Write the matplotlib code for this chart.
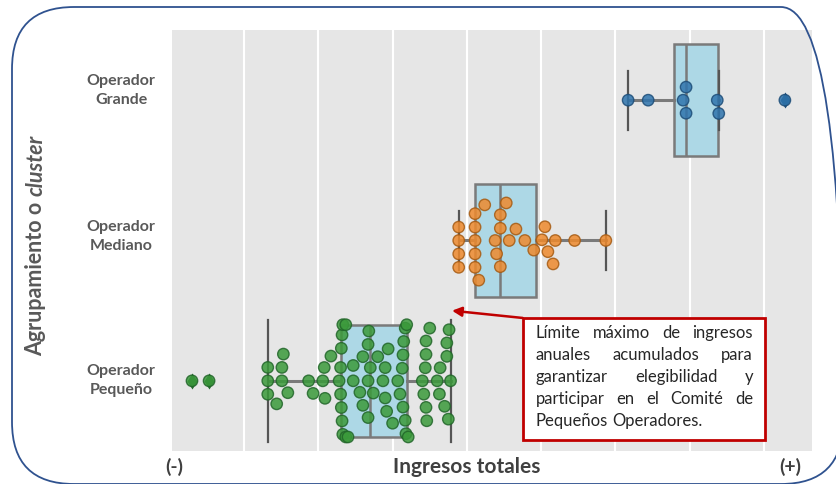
import matplotlib
matplotlib.use('Agg')
import pandas as pd
import matplotlib.pyplot as plt
import seaborn as sns
from matplotlib.patches import FancyBboxPatch, Rectangle
from matplotlib.transforms import IdentityTransform, blended_transform_factory

# Datos (unidades arbitrarias de ingresos)
grupos = ['Operador\nGrande', 'Operador\nMediano', 'Operador\nPequeño']

grande = [6.17, 6.44, 6.91, 6.95, 6.95, 7.37, 7.39, 8.28]

mediano = [3.89, 3.89, 3.89, 3.89, 4.11, 4.11, 4.11, 4.11, 4.11, 4.16, 4.24,
           4.38, 4.40, 4.45, 4.45, 4.45, 4.53, 4.57, 4.66, 4.78, 4.90, 5.01,
           5.05, 5.09, 5.16, 5.19, 5.45, 5.87]

pequeno = [0.30, 0.53, 1.32, 1.32, 1.32, 1.44, 1.51, 1.51, 1.53, 1.59, 1.87,
           1.93, 2.06, 2.08, 2.09, 2.17,
           2.28, 2.30, 2.30, 2.31, 2.31, 2.32, 2.32, 2.33, 2.33, 2.37, 2.37,
           2.40,
           2.47, 2.47, 2.56, 2.60, 2.60, 2.67, 2.67, 2.67, 2.68, 2.70, 2.74,
           2.80, 2.87, 2.90, 2.90, 2.92, 2.94, 3.00,
           3.07, 3.10, 3.13, 3.14, 3.14, 3.15, 3.17, 3.17, 3.18, 3.19, 3.21,
           3.40, 3.42, 3.44, 3.45, 3.45, 3.45, 3.46, 3.50,
           3.60, 3.63, 3.64, 3.70, 3.73, 3.73, 3.75, 3.76, 3.78]

colores = ['#2f74ad', '#ee8a2d', '#3b9a3b']
bordes = ['#1d4d78', '#a65b12', '#22662a']
ancho_caps = [0.42, 0.42, 0.87]

nota = ['Límite máximo de ingresos',
        'anuales acumulados para',
        'garantizar elegibilidad y',
        'participar en el Comité de',
        'Pequeños Operadores.']

plt.rcParams['font.family'] = ['Lato', 'DejaVu Sans']

W, H = 837, 484
fig = plt.figure(figsize=(W / 100, H / 100), dpi=100)
ax = fig.add_axes([172 / W, 33 / H, 640 / W, 421 / H])
ax.set_facecolor('#e6e6e6')
for s in ax.spines.values():
    s.set_visible(False)
ax.set_axisbelow(True)
ax.grid(axis='x', color='white', linewidth=1.5)

# Cajas (matplotlib, para poder variar el largo de los topes)
gris = '#7a7a7a'
bp = ax.boxplot([grande, mediano, pequeno], positions=[0, 1, 2],
                orientation='horizontal', widths=0.8, capwidths=ancho_caps,
                patch_artist=True, zorder=2,
                boxprops=dict(facecolor='#add8e6', edgecolor=gris, linewidth=1.8),
                whiskerprops=dict(color=gris, linewidth=2.2),
                capprops=dict(color='#555555', linewidth=1.6),
                medianprops=dict(color=gris, linewidth=1.8),
                flierprops=dict(marker='d', markersize=8, markeredgecolor='none'))
for fl, c in zip(bp['fliers'], bordes):
    fl.set_markerfacecolor(c)

# Puntos (swarm)
df = pd.DataFrame({
    'ingresos': grande + mediano + pequeno,
    'grupo': [grupos[0]] * len(grande) + [grupos[1]] * len(mediano) + [grupos[2]] * len(pequeno),
})
n_antes = len(ax.collections)
sns.swarmplot(data=df, x='ingresos', y='grupo', order=grupos, hue='grupo',
              hue_order=grupos, palette=colores, size=8.2, linewidth=1,
              alpha=0.85, legend=False, ax=ax, zorder=3)
for coll in ax.collections[n_antes:]:
    fc = coll.get_facecolor()
    if len(fc) == 0:
        continue
    hexfc = matplotlib.colors.to_hex(fc[0], keep_alpha=False)
    for c, b in zip(colores, bordes):
        if hexfc == c:
            coll.set_edgecolor(b)

ax.set_xlim(0.031, 8.645)
ax.set_ylim(2.5, -0.5)
ax.set_xticks(range(1, 9))
ax.set_xticklabels([])
ax.set_yticks([0, 1, 2])
ax.set_yticklabels([])
ax.tick_params(length=0)
ax.set_xlabel('')
ax.set_ylabel('')

# Etiquetas de grupo
trans = blended_transform_factory(fig.transFigure, ax.transData)
for pos, (g, dy) in enumerate(zip(grupos, [-0.07, -0.03, 0.0])):
    fig.text(121 / W, pos + dy, g, transform=trans, ha='center', va='center',
             fontsize=11.5, fontweight='bold', color='#595959', linespacing=1.45)

# Caja de nota y flecha
ax.add_patch(Rectangle((0.548, 0.026), 0.379, 0.29, transform=ax.transAxes,
                       facecolor='white', edgecolor='#c00000', linewidth=2,
                       zorder=5))
ax.annotate('', xy=(3.80, 1.5), xytext=(0.548, 0.316),
            xycoords='data', textcoords='axes fraction',
            arrowprops=dict(arrowstyle='-|>', color='#c00000', lw=1.8,
                            mutation_scale=14, shrinkA=0, shrinkB=0),
            zorder=6)

# Textos de ejes
fig.text(174 / W, 1 - 467 / H, '(-)', ha='center', va='center', fontsize=14,
         fontweight='bold', color='#404040')
fig.text(790 / W, 1 - 467 / H, '(+)', ha='center', va='center', fontsize=14,
         fontweight='bold', color='#404040')
fig.text(467 / W, 1 - 467 / H, 'Ingresos totales', ha='center', va='center',
         fontsize=15, fontweight='bold', color='#404040')

fig.canvas.draw()
r = fig.canvas.get_renderer()

# Etiqueta vertical con "cluster" en cursiva
t1 = fig.text(36 / W, 1 - 356 / H, 'Agrupamiento o ', rotation=90, ha='center',
              va='bottom', fontsize=15.5, fontweight='bold', color='#595959')
alto = t1.get_window_extent(r).height
fig.text(36 / W, (H - 356 + alto) / H, 'cluster', rotation=90, ha='center',
         va='bottom', fontsize=15.5, fontweight='bold', style='italic',
         color='#595959')

# Texto justificado de la nota
x_izq, x_der = 536, 753
tam = 12
espacio = fig.text(0, 0, 'a a', fontsize=tam).get_window_extent(r).width - \
    2 * fig.text(0, 0, 'a', fontsize=tam).get_window_extent(r).width
for t in fig.texts[-2:]:
    t.remove()
for i, linea in enumerate(nota):
    y = 1 - (333 + i * 22) / H
    palabras = linea.split()
    textos = [fig.text(0, y, p, ha='left', va='center', fontsize=tam,
                       color='#262626', zorder=7) for p in palabras]
    anchos = [t.get_window_extent(r).width for t in textos]
    if i < len(nota) - 1:
        hueco = (x_der - x_izq - sum(anchos)) / (len(palabras) - 1)
    else:
        hueco = espacio
    x = x_izq
    for t, w in zip(textos, anchos):
        t.set_x(x / W)
        x += w + hueco

# Marco redondeado
fig.add_artist(FancyBboxPatch((12, 0), 831, 477,
                              boxstyle='round,pad=0,rounding_size=62',
                              transform=IdentityTransform(), fill=False,
                              edgecolor='#2f528f', linewidth=1.3))

fig.savefig('out.png', dpi=100)
